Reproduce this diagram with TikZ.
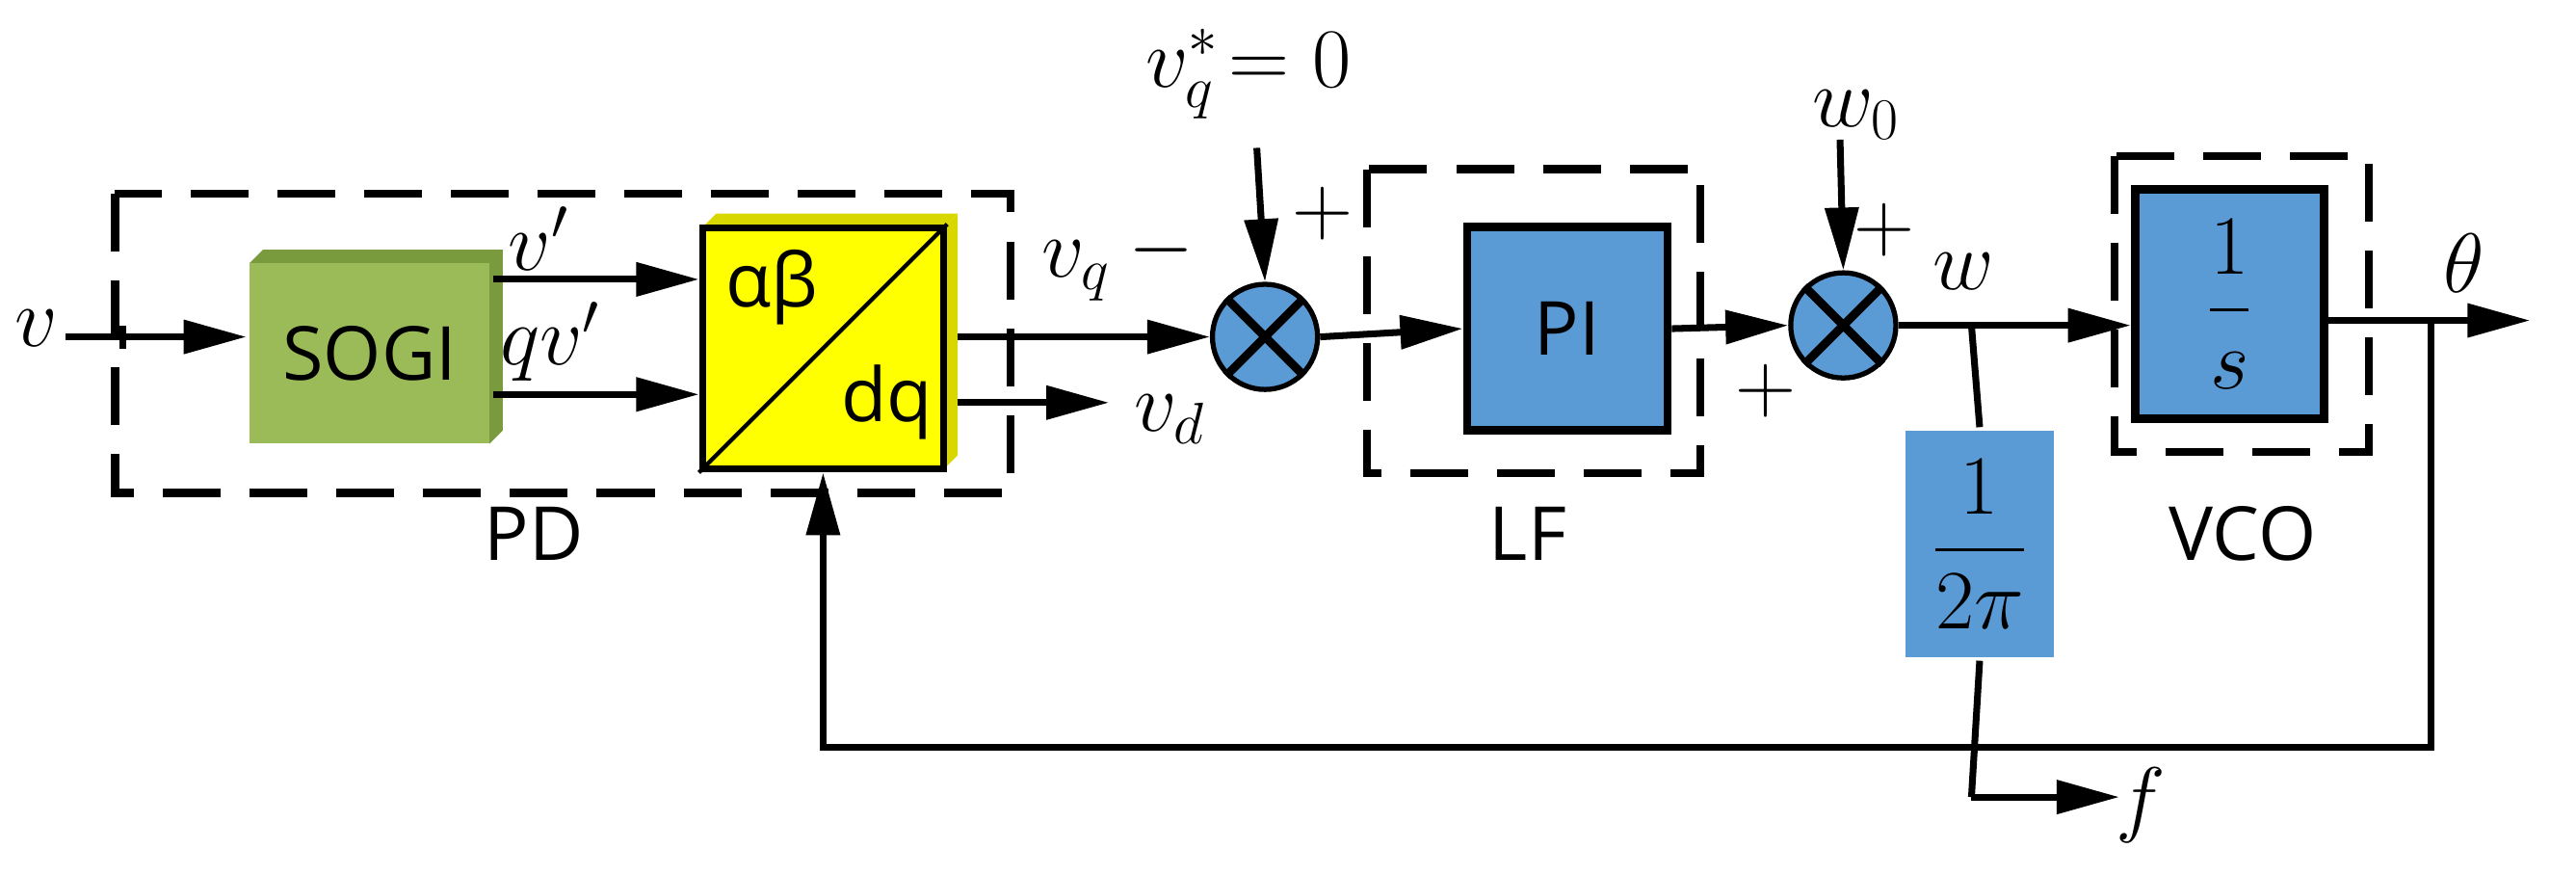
\documentclass[tikz,border=0pt]{standalone}
\usepackage{amsmath}
\usepackage{fontspec}
\newfontfamily\boxf{Open Sans}
\usetikzlibrary{arrows.meta,calc}
\def\u{0.01705cm}
\definecolor{gr}{HTML}{9BBB59}
\definecolor{grd}{HTML}{7A9A3E}
\definecolor{bl}{HTML}{5B9BD5}
\definecolor{ye}{HTML}{FFFF00}
\definecolor{yed}{HTML}{D8D800}
\begin{document}
\begin{tikzpicture}[x=0.01705cm,y=-0.01705cm,line width=2pt,
  arr/.style={-{Triangle[length=0.65cm,width=0.34cm]}},
  dbox/.style={dash pattern=on 0.6cm off 0.3cm,line width=2.4pt},
  blk/.style={draw,line width=2pt,inner sep=0pt},
  bt/.style={font=\boxf\fontsize{22}{26}\selectfont},
  ml/.style={font=\fontsize{26}{30}\selectfont},
  sum/.style={circle,draw,fill=bl,minimum size=64*\u,inner sep=0pt,line width=1.5pt}]
\useasboundingbox (0,0) rectangle (1568,532);
% dashed boxes
\draw[dbox] (70,118) rectangle (615,300);
\draw[dbox] (832,103) rectangle (1035,288);
\draw[dbox] (1287,95) rectangle (1442,275);
\node[bt] (pdl) at (325,325) {PD};
\node[bt] (lfl) at (930,325) {LF};
\node[bt] (vcol) at (1365,325) {VCO};
% SOGI 3D
\fill[grd] (152,160) -- (160,152) -- (306,152) -- (306,262) -- (298,270) -- (298,160) -- cycle;
\node[blk,draw=none,fill=gr,minimum width=146*\u,minimum height=110*\u,bt] (sogi) at (225,215) {SOGI};
% alpha beta box 3D
\fill[yed] (575,138) -- (583,130) -- (583,277) -- (575,285) -- cycle;
\fill[yed] (428,138) -- (436,130) -- (583,130) -- (575,138) -- cycle;
\node[blk,fill=ye,minimum width=147*\u,minimum height=147*\u] (ab) at (501,212) {};
\draw[line width=1.2pt] (ab.south west) -- (ab.north east);
\node[bt] (abt) at (470,175) {αβ};
\node[bt] (dqt) at (540,245) {dq};
% sums
\node[sum] (c1) at (770,205) {};
\draw[line width=2.5pt] (c1.north west) -- (c1.south east) (c1.north east) -- (c1.south west);
\node[sum] (c2) at (1122,198) {};
\draw[line width=2.5pt] (c2.north west) -- (c2.south east) (c2.north east) -- (c2.south west);
% PI, VCO, 1/2pi
\node[blk,fill=bl,minimum width=122*\u,minimum height=124*\u,bt,line width=2.5pt] (pi) at (954,200) {PI};
\node[blk,fill=bl,minimum width=115*\u,minimum height=140*\u,ml,line width=2.5pt] (vco) at (1357,185) {$\dfrac{1}{s}$};
\node[fill=bl,minimum width=90*\u,minimum height=138*\u,ml,inner sep=0pt] (tp) at (1205,331) {$\dfrac{1}{2\pi}$};
% labels
\node[ml] (lv) at (22,200) {$v$};
\node[ml] (lvp) at (328,145) {$v'$};
\node[ml] (lqv) at (335,208) {$qv'$};
\node[ml] (lvq) at (655,165) {$v_q$};
\node[ml] (lm) at (707,152) {$-$};
\node[ml] (lvd) at (712,255) {$v_d$};
\node[ml] (lvs) at (760,45) {$v_q^*\!=0$};
\node[ml] (lp1) at (805,130) {$+$};
\node[ml] (lp2) at (1075,238) {$+$};
\node[ml] (lw0) at (1130,70) {$w_0$};
\node[ml] (lp3) at (1147,140) {$+$};
\node[ml] (lw) at (1195,165) {$w$};
\node[ml] (lth) at (1500,160) {$\theta$};
\node[ml] (lf) at (1303,490) {$f$};
% coordinates
\coordinate (vin) at (40,205);
\coordinate (vqs) at (765,90);
\coordinate (w0s) at (1120,85);
\coordinate (br) at (1200,198);
\coordinate (th) at (1480,195);
\coordinate (thend) at (1540,195);
\coordinate (fb1) at (1480,455);
\coordinate (fb2) at (501,455);
\coordinate (fd) at (1200,485);
\coordinate (fend) at (1290,485);
% connectors
\draw[arr] (vin) -- (vin -| sogi.west);
\draw (75,198) -- (75,212);
\draw[arr] (sogi.east |- 0,170) -- (ab.west |- 0,170);
\draw[arr] (sogi.east |- 0,240) -- (ab.west |- 0,240);
\draw[arr] (583,205) -- (c1.west);
\draw[arr] (583,245) -- (675,245);
\draw[arr] (vqs) -- (c1.north);
\draw[arr] (c1.east) -- (pi.west);
\draw[arr] (pi.east) -- (c2.west);
\draw[arr] (w0s) -- (c2.north);
\draw[arr] (c2.east) -- (vco.west |- c2.east);
\draw (br) -- (tp.north);
\draw (tp.south) -- (fd);
\draw[arr] (fd) -- (fend);
\draw[arr] (vco.east |- th) -- (thend);
\draw[arr] (th) -- (fb1) -- (fb2) -- (ab.south);
\end{tikzpicture}
\end{document}
